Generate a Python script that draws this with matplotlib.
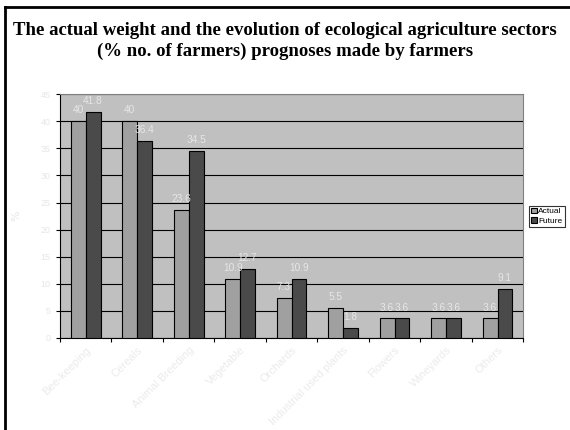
import matplotlib
matplotlib.use('Agg')
import matplotlib.pyplot as plt
import numpy as np

categories = ['Bee-keeping', 'Cereals', 'Animal Breeding', 'Vegetable', 'Orchards',
              'Industrial used plants', 'Flowers', 'Wineyards', 'Others']
actual = [40, 40, 23.6, 10.9, 7.3, 5.5, 3.6, 3.6, 3.6]
future = [41.8, 36.4, 34.5, 12.7, 10.9, 1.8, 3.6, 3.6, 9.1]

light = '#e6e6e6'

fig = plt.figure(figsize=(5.7, 4.3), dpi=100)
fig.patch.set_facecolor('white')

# frame lines on the left and top of the slide
fig.add_artist(plt.Line2D([0.009, 0.009], [0, 0.984], color='black', lw=2, transform=fig.transFigure))
fig.add_artist(plt.Line2D([0.009, 1.0], [0.984, 0.984], color='black', lw=2, transform=fig.transFigure))

fig.text(0.5, 0.905, 'The actual weight and the evolution of ecological agriculture sectors\n'
         '(% no. of farmers) prognoses made by farmers',
         ha='center', va='center', fontsize=13.5, fontweight='bold',
         family='Liberation Serif', linespacing=1.3)

ax = fig.add_axes([0.105, 0.214, 0.813, 0.567])
ax.set_facecolor('#c0c0c0')

x = np.arange(len(categories))
w = 0.29
b1 = ax.bar(x - w/2, actual, w, color='#a0a0a0', edgecolor='black', lw=0.8, label='Actual', zorder=3)
b2 = ax.bar(x + w/2, future, w, color='#4a4a4a', edgecolor='black', lw=0.8, label='Future', zorder=3)

for bars, vals in [(b1, actual), (b2, future)]:
    for r, v in zip(bars, vals):
        ax.text(r.get_x() + r.get_width()/2, v + 1.1, '%g' % v, ha='center', va='bottom',
                fontsize=7.3, color=light, family='Liberation Sans', zorder=4)

ax.set_xlim(-0.5, len(categories) - 0.5)
ax.set_ylim(0, 45)
ax.set_yticks(range(0, 46, 5))
ax.yaxis.grid(True, color='black', lw=0.8, zorder=1)
ax.set_xticks(np.arange(len(categories) + 1) - 0.5)
ax.set_xticklabels([])
ax.set_xticks(x, minor=True)
ax.set_xticklabels(categories, minor=True, rotation=45, ha='right', rotation_mode='anchor',
                   fontsize=8, color='#ebebeb', family='Liberation Sans')
ax.tick_params(axis='x', which='minor', length=0, pad=5)
ax.tick_params(axis='x', which='major', length=3, direction='out', width=0.8)
ax.tick_params(axis='y', length=3, direction='out', labelsize=6.5, labelcolor=light, width=0.8)
for t in ax.get_yticklabels():
    t.set_family('Liberation Sans')

ax.spines['top'].set_color('#808080')
ax.spines['right'].set_color('#808080')
ax.spines['left'].set_color('black')
ax.spines['bottom'].set_color('black')

ax.set_ylabel('%', color=light, fontsize=8, labelpad=14)

leg = ax.legend(loc='center left', bbox_to_anchor=(1.012, 0.5), fontsize=6, frameon=True,
                fancybox=False, edgecolor='black', handlelength=0.7, handleheight=0.7,
                handletextpad=0.2, borderpad=0.25, labelspacing=0.15, borderaxespad=0,
                prop={'family': 'Liberation Sans', 'size': 6})
leg.get_frame().set_linewidth(0.8)

fig.savefig('out.png', dpi=100)
